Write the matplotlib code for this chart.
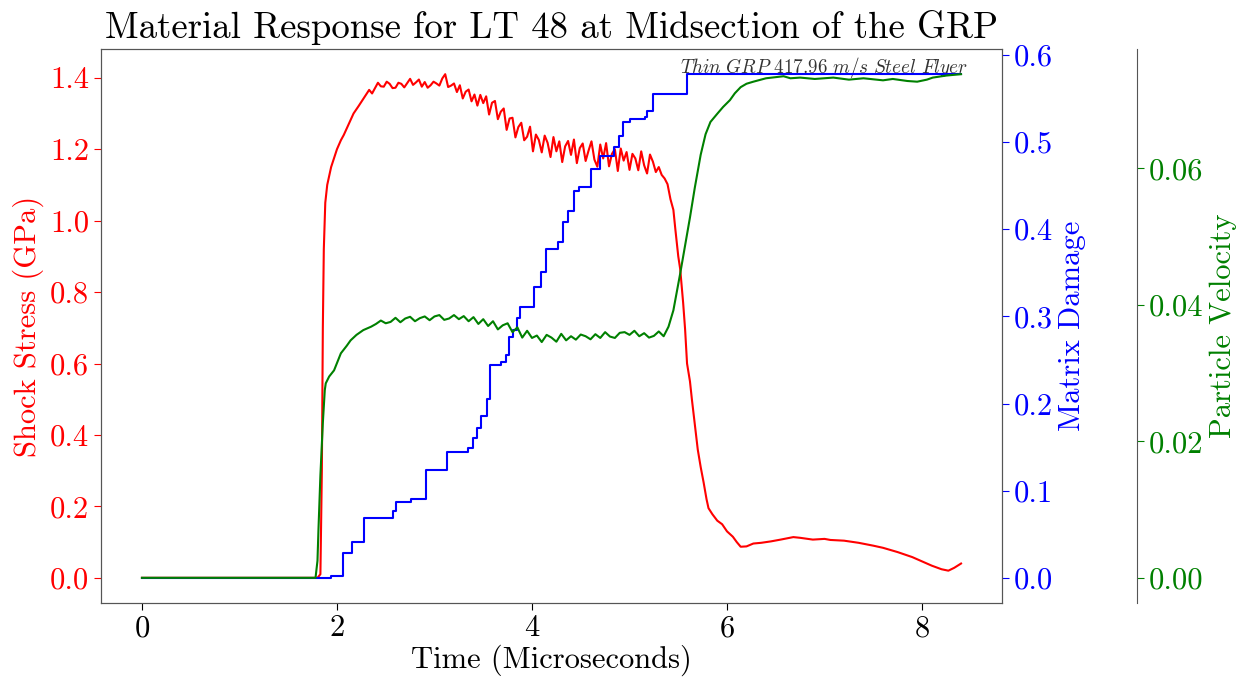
import numpy as np
import matplotlib
matplotlib.use("Agg")
import matplotlib.pyplot as plt

plt.rcParams['font.family'] = ['cmr10', 'DejaVu Serif']
plt.rcParams['mathtext.fontset'] = 'cm'
plt.rcParams['axes.formatter.use_mathtext'] = True

# shock stress (GPa)
stress_t_head = [0.0, 1.80, 1.83, 1.845, 1.855, 1.865, 1.88, 1.90, 1.94, 2.00,
                 2.04, 2.07, 2.12, 2.17, 2.22, 2.27]
stress_head = [0.0, 0.0, 0.01, 0.30, 0.70, 0.92, 1.05, 1.10, 1.15, 1.20,
               1.225, 1.24, 1.27, 1.30, 1.32, 1.341]
stress_t_mid = np.arange(105) * 0.03 + 2.30
stress_mid = [
    1.354, 1.366, 1.356, 1.371, 1.386, 1.376, 1.375, 1.389, 1.383, 1.371,
    1.372, 1.386, 1.383, 1.373, 1.385, 1.397, 1.380, 1.387, 1.395, 1.375,
    1.388, 1.372, 1.379, 1.389, 1.384, 1.378, 1.398, 1.410, 1.374, 1.378,
    1.384, 1.360, 1.379, 1.342, 1.361, 1.367, 1.334, 1.353, 1.322, 1.352,
    1.329, 1.348, 1.297, 1.330, 1.335, 1.284, 1.305, 1.314, 1.254, 1.286,
    1.288, 1.233, 1.262, 1.274, 1.225, 1.235, 1.263, 1.194, 1.241, 1.226,
    1.191, 1.238, 1.218, 1.178, 1.234, 1.194, 1.222, 1.164, 1.208, 1.223,
    1.184, 1.227, 1.161, 1.203, 1.216, 1.167, 1.196, 1.222, 1.171, 1.151,
    1.213, 1.174, 1.217, 1.152, 1.187, 1.200, 1.139, 1.202, 1.168, 1.192,
    1.142, 1.187, 1.174, 1.141, 1.194, 1.155, 1.132, 1.185, 1.165, 1.136,
    1.150, 1.128, 1.118, 1.102, 1.060]
stress_t_tail = [5.45, 5.47, 5.50, 5.52, 5.55, 5.57, 5.59, 5.62, 5.64, 5.67,
                 5.70, 5.73, 5.76, 5.79, 5.81, 5.85, 5.90, 5.95, 6.00, 6.06,
                 6.10, 6.14, 6.20, 6.27, 6.35, 6.45, 6.55, 6.68, 6.75, 6.88,
                 7.00, 7.06, 7.20, 7.35, 7.50, 7.60, 7.75, 7.90, 8.00, 8.10,
                 8.20, 8.27, 8.33, 8.40]
stress_tail = [1.03, 0.976, 0.90, 0.864, 0.77, 0.696, 0.60, 0.55, 0.499, 0.43,
               0.359, 0.31, 0.267, 0.22, 0.195, 0.178, 0.16, 0.15, 0.13, 0.115,
               0.10, 0.087, 0.088, 0.096, 0.098, 0.102, 0.107, 0.114, 0.112, 0.107,
               0.109, 0.106, 0.104, 0.098, 0.090, 0.084, 0.072, 0.058, 0.046, 0.034,
               0.024, 0.020, 0.028, 0.040]

# matrix damage (stepwise)
damage_t = [0.0, 1.94, 2.06, 2.15, 2.28, 2.57, 2.61, 2.76, 2.91, 3.13,
            3.34, 3.39, 3.44, 3.48, 3.54, 3.57, 3.68, 3.73, 3.76, 3.81,
            3.85, 3.88, 4.02, 4.09, 4.14, 4.27, 4.32, 4.37, 4.43, 4.48,
            4.52, 4.60, 4.70, 4.84, 4.89, 4.93, 5.01, 5.16, 5.18, 5.24,
            5.59, 8.40]
damage = [0.0, 0.002, 0.029, 0.041, 0.069, 0.077, 0.087, 0.090, 0.124, 0.144,
          0.149, 0.161, 0.172, 0.186, 0.205, 0.244, 0.248, 0.256, 0.276, 0.284,
          0.298, 0.311, 0.334, 0.351, 0.377, 0.385, 0.408, 0.421, 0.444, 0.449,
          0.449, 0.469, 0.484, 0.495, 0.507, 0.523, 0.526, 0.529, 0.536, 0.555,
          0.578, 0.578]

# particle velocity
vel_t_head = [0.0, 1.78, 1.80, 1.81, 1.83, 1.855, 1.875, 1.885, 1.92, 1.97,
              2.04, 2.10, 2.14, 2.20, 2.27, 2.35, 2.40]
vel_head = [0.0, 0.0, 0.0025, 0.007, 0.0150, 0.0227, 0.0275, 0.0285, 0.0295, 0.0304,
            0.0329, 0.0340, 0.0348, 0.0356, 0.0363, 0.0368, 0.0372]
vel_t_mid = np.arange(60) * 0.05 + 2.45
vel_mid = [
    .03770, .03730, .03750, .03810, .03745, .03800, .03825, .03760, .03805, .03830,
    .03775, .03830, .03850, .03780, .03800, .03850, .03790, .03835, .03760, .03820,
    .03720, .03790, .03690, .03760, .03640, .03700, .03730, .03600, .03670, .03520,
    .03620, .03515, .03550, .03455, .03560, .03520, .03460, .03575, .03480, .03540,
    .03490, .03565, .03540, .03495, .03570, .03515, .03600, .03535, .03515, .03590,
    .03600, .03560, .03620, .03540, .03585, .03520, .03545, .03610, .03540, .03680]
vel_t_tail = [5.45, 5.52, 5.57, 5.62, 5.67, 5.73, 5.78, 5.83, 5.90, 5.96,
              6.03, 6.08, 6.14, 6.20, 6.27, 6.40, 6.58, 6.65, 6.75, 6.90,
              7.09, 7.25, 7.40, 7.60, 7.70, 7.85, 7.95, 8.05, 8.11, 8.25, 8.40]
vel_tail = [0.0392, 0.0446, 0.0487, 0.0528, 0.0572, 0.0620, 0.0650, 0.0668, 0.0680, 0.0690,
            0.0700, 0.0710, 0.0719, 0.0724, 0.0727, 0.0732, 0.0735, 0.0732, 0.0733, 0.0731,
            0.0733, 0.0730, 0.0732, 0.0729, 0.0731, 0.0728, 0.0727, 0.0730, 0.0733, 0.0736, 0.0738]

stress_t = np.concatenate([stress_t_head, stress_t_mid, stress_t_tail])
stress = np.concatenate([stress_head, stress_mid, stress_tail])
vel_t = np.concatenate([vel_t_head, vel_t_mid, vel_t_tail])
vel = np.concatenate([vel_head, vel_mid, vel_tail])

fig = plt.figure(figsize=(12.44, 6.84), dpi=100)
ax = fig.add_axes([101 / 1244, 81 / 684, 901 / 1244, 554 / 684])
ax2 = ax.twinx()
ax3 = ax.twinx()

frame = '#555555'
fs = 22

ax.plot(stress_t, stress, color='red', lw=1.5)
ax2.plot(damage_t, damage, color='blue', lw=1.5, drawstyle='steps-post')
ax3.plot(vel_t, vel, color='green', lw=1.5)

ax.set_title('Material Response for LT 48 at Midsection of the GRP', fontsize=26.5, pad=8)
ax.set_xlabel('Time (Microseconds)', fontsize=fs, labelpad=2)
ax.set_ylabel('Shock Stress (GPa)', fontsize=fs, color='red')
ax2.set_ylabel('Matrix Damage', fontsize=fs, color='blue')
ax3.set_ylabel('Particle Velocity', fontsize=fs, color='green')

ax.set_xticks([0, 2, 4, 6, 8])
ax.set_yticks([0.0, 0.2, 0.4, 0.6, 0.8, 1.0, 1.2, 1.4])
ax2.set_yticks([0.0, 0.1, 0.2, 0.3, 0.4, 0.5, 0.6])
ax3.set_yticks([0.00, 0.02, 0.04, 0.06])
ax.set_yticklabels(['%.1f' % v for v in ax.get_yticks()])
ax2.set_yticklabels(['%.1f' % v for v in ax2.get_yticks()])
ax3.set_yticklabels(['%.2f' % v for v in ax3.get_yticks()])

ax.tick_params(axis='x', labelsize=fs, colors='black', length=5)
ax.tick_params(axis='y', labelsize=fs, colors='red', length=5)
ax2.tick_params(axis='y', labelsize=fs, colors='blue', length=5)
ax3.tick_params(axis='y', labelsize=fs, colors='green', length=5)

for s in ax.spines.values():
    s.set_color(frame)
for s in ax2.spines.values():
    s.set_color(frame)
ax3.spines['right'].set_position(('axes', 1.15))
for name in ['left', 'top', 'bottom']:
    ax3.spines[name].set_visible(False)
ax3.spines['right'].set_color(frame)

ax.text(0.962, 0.990, r'$\mathit{Thin\ GRP\ 417.96\ m/s\ Steel\ Flyer}$', transform=ax.transAxes,
        ha='right', va='top', fontsize=13.8, color='#333333')

fig.savefig('out.png', dpi=100)
